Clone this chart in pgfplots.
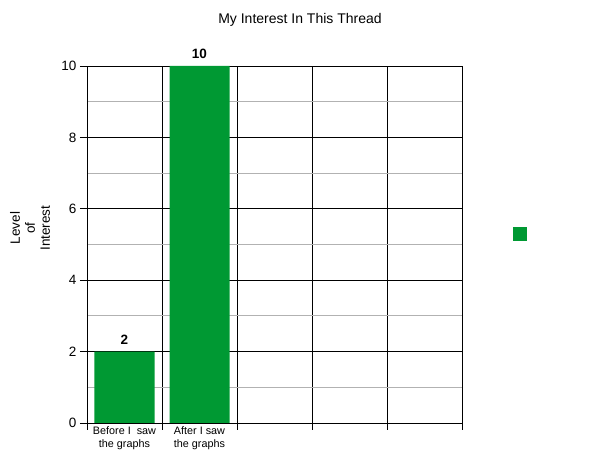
\documentclass[border=0pt]{standalone}
\usepackage{pgfplots}
\pgfplotsset{compat=1.18}
\usepackage{fontspec}
\setmainfont{Liberation Sans}
\definecolor{bargreen}{RGB}{0,153,51}
\begin{document}
\begin{tikzpicture}
\path[use as bounding box] (0,0) rectangle (600bp,463bp);
\begin{axis}[
    at={(87bp,40bp)}, anchor=south west,
    scale only axis,
    width=375bp, height=357bp,
    xmin=0, xmax=5, ymin=0, ymax=10,
    ytick={0,2,...,10},
    minor y tick num=1,
    xtick={0,...,5},
    xticklabels={},
    extra x ticks={0.5,1.5},
    extra x tick labels={Before I\ \ saw\\the graphs, After I saw\\the graphs},
    extra x tick style={major tick length=0pt, grid=none,
        tick label style={align=center, font=\fontsize{10.8bp}{13bp}\selectfont}},
    xtick pos=bottom, ytick pos=left,
    tick align=outside,
    major tick length=7bp,
    minor tick length=0pt,
    tick style={black, line width=0.8bp},
    xmajorgrids, ymajorgrids, yminorgrids,
    major grid style={black, line width=0.9bp},
    minor grid style={gray!60, line width=0.8bp},
    axis line style={black, line width=0.9bp},
    tick label style={font=\fontsize{13.5bp}{15bp}\selectfont},
    /pgf/number format/assume math mode=true,
    title={My Interest In This Thread},
    title style={at={(axis description cs:0.568,1)}, anchor=center, yshift=40bp,
        font=\fontsize{14bp}{16bp}\selectfont},
    ylabel={Level\\of\\Interest},
    ylabel style={at={(axis description cs:-0.152,0.546)}, anchor=center,
        align=center, font=\fontsize{13.5bp}{15bp}\selectfont},
    ybar, bar width=60bp,
    nodes near coords,
    nodes near coords style={anchor=center, yshift=12bp,
        font=\fontsize{13.5bp}{15bp}\selectfont\bfseries},
    legend style={at={(axis description cs:1.157,0.529)}, anchor=center,
        draw=none, fill=none, inner sep=0pt,
        nodes={inner sep=0pt}},
    legend image code/.code={\fill[bargreen] (0bp,-7bp) rectangle (14bp,7bp);},
]
\addplot[fill=bargreen, draw=none] coordinates {(0.5,2) (1.5,10)};
\addlegendentry{}
\end{axis}
\end{tikzpicture}
\end{document}
